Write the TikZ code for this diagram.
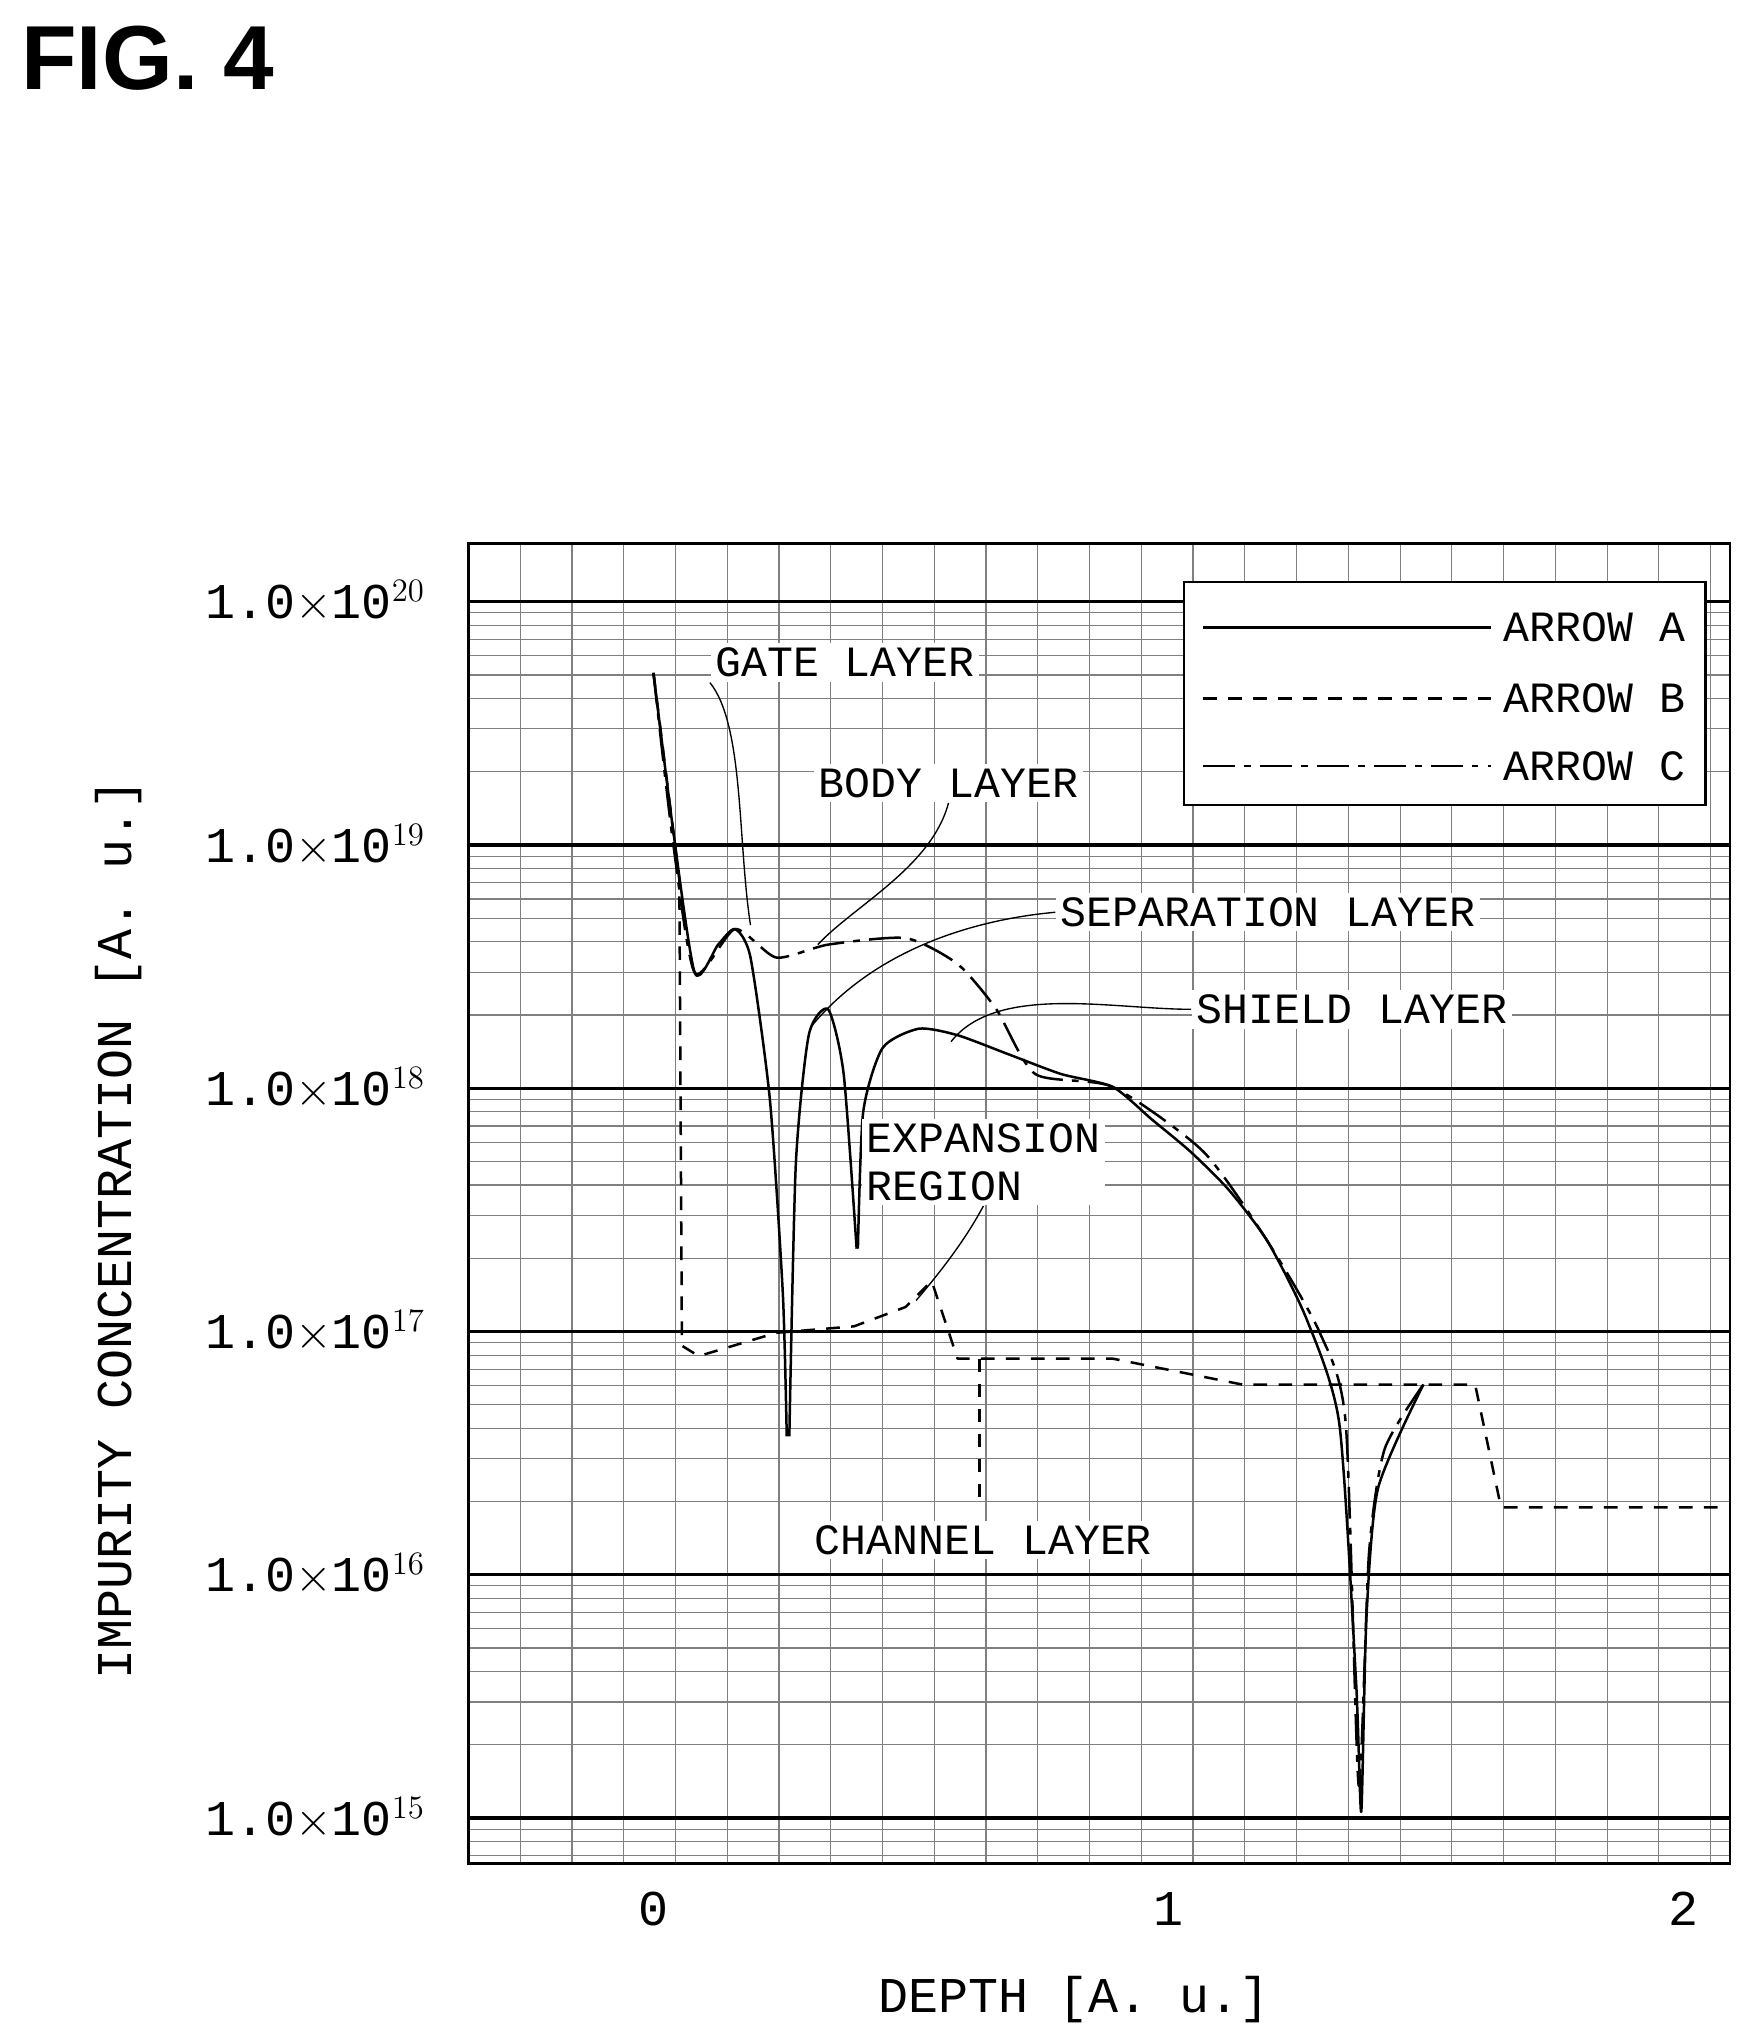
\documentclass[tikz,border=0pt]{standalone}
\usepackage{fontspec}
\setmainfont{Liberation Mono}
\newfontfamily\figfont{Liberation Sans}
\usetikzlibrary{positioning}

\begin{document}
\begin{tikzpicture}[x=0.02cm, y=-0.02cm, thick]
\tikzset{
  lbl/.style={font=\fontsize{19}{21}\selectfont, inner sep=2pt, fill=white},
  tick/.style={font=\fontsize{22}{24}\selectfont},
  grid/.style={gray, line width=0.5pt},
  curve/.style={line width=1.1pt, line join=round},
  lead/.style={line width=0.6pt}
}
\useasboundingbox (0,0) rectangle (1360,1575);

% title
\node[font=\figfont\bfseries\fontsize{40}{44}\selectfont, anchor=west] (fig) at (10,45) {FIG. 4};

% grid
\foreach \gx in {362,402,...,1337} \draw[grid] (\gx,420) -- (\gx,1440);
\foreach \dec in {15,...,19} {
  \foreach \m in {2,...,9}
    \draw[grid] (362,{1405-188*(\dec-15+log10(\m))}) -- (1337,{1405-188*(\dec-15+log10(\m))});
}
\foreach \m in {7,8,9}
  \draw[grid] (362,{1405-188*(log10(\m)-1)}) -- (1337,{1405-188*(log10(\m)-1)});
\foreach \dec in {15,...,20}
  \draw[line width=1.4pt] (362,{1405-188*(\dec-15)}) -- (1337,{1405-188*(\dec-15)});
\draw[line width=1.2pt] (362,420) rectangle (1337,1440);

% y tick labels
\foreach \dec in {15,...,20}
  \node[tick, anchor=east] at (335,{1405-188*(\dec-15)}) {1.0$\times$10$^{\dec}$};
% x tick labels
\foreach \d in {0,1,2}
  \node[tick] at ({505+398*\d},1475) {\d};
\node[tick] (xlab) at (830,1545) {DEPTH [A. u.]};
\node[tick, rotate=90] (ylab) at (92,950) {IMPURITY CONCENTRATION [A. u.]};

% arrow A
\draw[curve] plot[smooth, tension=0.4] coordinates {(505,520)(520,640)(537,752)(555,730)(568,718)(580,740)(595,850)(605,1000)(608,1110)};
\draw[curve] plot[smooth, tension=0.4] coordinates {(610,1110)(615,900)(625,800)(640,780)(652,830)(662,965)};
\draw[curve] plot[smooth, tension=0.4] coordinates {(663,965)(667,860)(682,810)(710,795)(740,800)(780,815)(820,830)(860,840)(890,865)(920,890)(950,920)(980,960)(1010,1020)(1035,1100)(1048,1300)(1052,1400)(1056,1250)(1065,1150)(1100,1070)};
% arrow B
\draw[curve, dash pattern=on 6pt off 5pt] (505,520) -- (525,680) -- (527,1040) -- (540,1048) -- (600,1030) -- (660,1025) -- (700,1010) -- (720,990) -- (740,1050) -- (860,1050) -- (960,1070) -- (1140,1070) -- (1160,1165) -- (1335,1165);
\draw[curve, dash pattern=on 6pt off 5pt] (757,1050) -- (757,1160);
% arrow C
\draw[curve, dash pattern=on 14pt off 4pt on 3pt off 4pt] plot[smooth, tension=0.4] coordinates {(505,520)(520,650)(537,752)(568,718)(600,740)(640,730)(700,725)(740,745)(770,780)(800,830)(860,840)(930,890)(980,960)(1020,1030)(1040,1100)(1050,1380)(1058,1200)(1070,1120)(1100,1070)};

% annotations
\node[lbl] (gate) at (653,512) {GATE LAYER};
\node[lbl] (body) at (733,605) {BODY LAYER};
\node[lbl] (sep) at (980,705) {SEPARATION LAYER};
\node[lbl] (shield) at (1045,780) {SHIELD LAYER};
\node[lbl, align=left] (exp) at (760,898) {EXPANSION\\REGION};
\node[lbl] (chan) at (760,1190) {CHANNEL LAYER};
\coordinate (gateP) at (580,715);
\coordinate (bodyP) at (632,730);
\coordinate (sepP) at (628,792);
\coordinate (shieldP) at (735,805);
\coordinate (expP) at (708,1005);
\draw[lead] (gate.south west) .. controls (575,560) and (570,650) .. (gateP);
\draw[lead] (body.south) .. controls (720,670) and (660,700) .. (bodyP);
\draw[lead] (sep.west) .. controls (760,710) and (680,730) .. (sepP);
\draw[lead] (shield.west) .. controls (860,780) and (770,760) .. (shieldP);
\draw[lead] (exp.south) .. controls (745,960) and (725,985) .. (expP);

% legend
\draw[line width=1pt, fill=white] (915,450) rectangle (1318,622);
\coordinate (la1) at (930,485); \coordinate (la2) at (1152,485);
\coordinate (lb1) at (930,540); \coordinate (lb2) at (1152,540);
\coordinate (lc1) at (930,592); \coordinate (lc2) at (1152,592);
\draw[curve] (la1) -- (la2);
\draw[curve, dash pattern=on 6pt off 5pt] (lb1) -- (lb2);
\draw[curve, dash pattern=on 14pt off 4pt on 3pt off 4pt] (lc1) -- (lc2);
\node[lbl, anchor=west] (ta) at (1158,485) {ARROW A};
\node[lbl, anchor=west] (tb) at (1158,540) {ARROW B};
\node[lbl, anchor=west] (tc) at (1158,592) {ARROW C};
\end{tikzpicture}
\end{document}
